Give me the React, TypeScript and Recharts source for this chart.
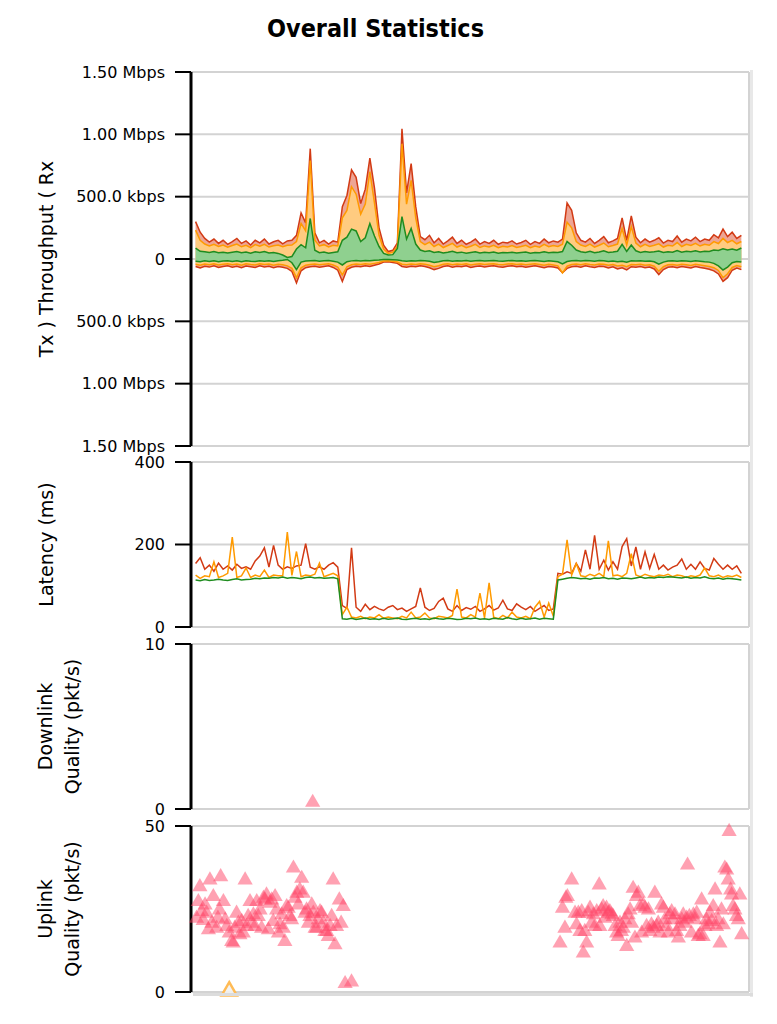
import React from 'react';
import { Area, CartesianGrid, ComposedChart, Line, Scatter, Symbols, XAxis, YAxis } from 'recharts';

const FONT = "'DejaVu Sans', sans-serif";
const SAMPLE_STEP = 15; // seconds between samples
const TIME_END = 1825;
const timeTicks = [360, 960, 1560, TIME_END];

// throughput, kbps (Rx up, Tx drawn downwards)
const rxRed = [
  300, 215, 165, 135, 160, 125, 150, 118, 140, 165,
  125, 145, 112, 150, 130, 160, 120, 138, 150, 122,
  145, 150, 190, 370, 290, 885, 210, 130, 150, 120,
  145, 135, 420, 510, 715, 655, 445, 560, 810, 570,
  250, 110, 60, 70, 130, 1045, 530, 765, 420, 180,
  155, 190, 130, 165, 120, 145, 175, 125, 150, 118,
  135, 160, 120, 140, 125, 150, 118, 135, 128, 145,
  120, 132, 150, 118, 140, 125, 160, 130, 145, 135,
  160, 450, 390, 210, 150, 135, 165, 125, 150, 180,
  130, 145, 165, 330, 150, 345, 175, 130, 160, 135,
  150, 170, 128, 150, 140, 185, 135, 160, 145, 175,
  140, 160, 150, 195, 170, 240, 180, 215, 165, 190,
];
const rxOrange = [
  232, 150, 120, 105, 118, 100, 112, 95, 108, 120,
  98, 110, 92, 115, 102, 118, 96, 106, 112, 98,
  110, 112, 140, 285, 225, 790, 150, 105, 115, 96,
  110, 105, 330, 390, 580, 520, 360, 440, 700, 450,
  190, 80, 45, 55, 100, 925, 440, 630, 330, 140,
  115, 135, 100, 120, 92, 108, 125, 96, 110, 90,
  102, 118, 92, 105, 96, 110, 90, 102, 96, 108,
  92, 100, 110, 90, 104, 95, 118, 98, 108, 100,
  118, 295, 250, 140, 112, 100, 120, 95, 110, 128,
  98, 108, 120, 245, 112, 260, 128, 98, 118, 100,
  110, 122, 96, 110, 104, 132, 100, 118, 108, 126,
  104, 118, 110, 140, 124, 165, 132, 150, 122, 140,
];
const rxGreen = [
  88, 62, 58, 52, 60, 50, 55, 48, 54, 60,
  50, 56, 46, 58, 52, 60, 48, 52, 45, 32,
  12, 20, 80, 115, 90, 325, 70, 50, 56, 46,
  52, 58, 150, 175, 240, 225, 140, 170, 285, 185,
  100, 45, 32, 35, 85, 340, 160, 245, 120, 72,
  60, 66, 52, 58, 48, 54, 62, 50, 55, 46,
  52, 58, 48, 54, 50, 56, 46, 52, 50, 55,
  48, 52, 56, 46, 52, 50, 58, 50, 55, 52,
  60, 140, 110, 72, 58, 52, 62, 50, 56, 66,
  52, 56, 62, 118, 60, 112, 66, 52, 60, 54,
  58, 64, 52, 58, 55, 68, 54, 62, 58, 66,
  56, 62, 60, 72, 68, 82, 72, 80, 70, 88,
];
const txRed = [
  60, 72, 58, 65, 55, 68, 60, 55, 66, 58,
  70, 56, 62, 68, 55, 64, 58, 70, 60, 66,
  75, 100, 192, 95, 70, 62, 58, 66, 60, 55,
  68, 90, 180, 85, 66, 58, 62, 55, 60, 50,
  40, 25, 22, 28, 35, 60, 66, 58, 62, 55,
  60, 70, 85, 75, 60, 55, 66, 58, 62, 55,
  68, 60, 56, 64, 58, 55, 62, 66, 58, 55,
  62, 58, 66, 60, 55, 62, 70, 60, 65, 72,
  110, 75, 62, 58, 66, 55, 62, 68, 58, 60,
  72, 62, 80, 70, 88, 62, 66, 60, 70, 65,
  80, 125, 85, 66, 62, 70, 60, 66, 72, 60,
  68, 75, 82, 95, 120, 180, 150, 90, 72, 85,
];
const txOrange = [
  42, 50, 40, 46, 38, 48, 42, 38, 46, 40,
  50, 38, 44, 48, 38, 45, 40, 50, 42, 46,
  55, 75, 150, 70, 50, 44, 40, 46, 42, 38,
  48, 65, 128, 62, 46, 40, 44, 38, 42, 35,
  28, 16, 14, 18, 24, 42, 46, 40, 44, 38,
  42, 50, 62, 54, 42, 38, 46, 40, 44, 38,
  48, 42, 38, 45, 40, 38, 44, 46, 40, 38,
  44, 40, 46, 42, 38, 44, 50, 42, 48, 55,
  112, 58, 44, 40, 46, 38, 44, 48, 40, 42,
  50, 44, 56, 50, 62, 44, 46, 42, 50, 46,
  58, 98, 62, 46, 44, 50, 42, 46, 52, 42,
  48, 54, 60, 70, 92, 150, 118, 68, 52, 62,
];
const txGreen = [
  18, 22, 15, 20, 14, 22, 16, 14, 20, 15,
  22, 14, 18, 20, 14, 18, 15, 20, 14, 10,
  4, 30, 85, 25, 16, 14, 12, 18, 15, 12,
  18, 25, 48, 22, 15, 12, 16, 12, 14, 10,
  8, 5, 4, 6, 8, 14, 18, 14, 16, 12,
  14, 18, 28, 22, 14, 12, 18, 14, 16, 12,
  18, 14, 12, 16, 14, 12, 16, 18, 14, 12,
  16, 14, 18, 15, 12, 16, 20, 15, 18, 22,
  40, 20, 15, 12, 16, 12, 15, 18, 13, 14,
  20, 16, 22, 18, 25, 15, 16, 14, 18, 16,
  22, 42, 25, 16, 15, 18, 14, 16, 20, 15,
  18, 22, 25, 35, 55, 88, 65, 30, 20, 25,
];

// latency, ms
const latRed = [
  154, 168, 140, 150, 135, 155, 140, 148, 138, 152,
  142, 146, 140, 160, 172, 192, 145, 198, 150, 140,
  146, 142, 148, 150, 202, 145, 140, 146, 140, 150,
  156, 145, 52, 45, 192, 48, 38, 55, 42, 50,
  44, 40, 48, 52, 42, 46, 38, 44, 50, 95,
  48, 40, 45, 62, 70, 44, 38, 52, 40, 47,
  43, 50, 38, 44, 52, 41, 46, 65, 44, 40,
  56, 48, 42, 50, 38, 45, 52, 40, 44, 130,
  128, 134, 130, 154, 135, 187, 140, 222, 140, 162,
  138, 158, 140, 195, 214, 148, 194, 140, 182, 142,
  176, 140, 150, 138, 145, 150, 165, 140, 152, 140,
  158, 142, 138, 166, 152, 140, 150, 140, 148, 130,
];
const latOrange = [
  126, 118, 124, 122, 158, 120, 124, 130, 218, 120,
  124, 143, 120, 126, 122, 138, 120, 126, 124, 124,
  230, 125, 183, 122, 126, 124, 128, 155, 122, 126,
  130, 124, 30, 48, 24, 22, 26, 20, 24, 22,
  30, 21, 24, 22, 20, 26, 22, 36, 22, 24,
  34, 22, 20, 26, 24, 22, 28, 92, 24, 22,
  30, 24, 82, 22, 107, 24, 20, 28, 22, 36,
  24, 22, 26, 20, 48, 62, 24, 58, 26, 122,
  128, 211, 126, 154, 124, 122, 128, 124, 130, 122,
  209, 124, 126, 122, 130, 178, 126, 122, 128, 124,
  122, 126, 124, 128, 122, 126, 124, 120, 124, 122,
  126, 143, 124, 122, 126, 120, 124, 122, 126, 120,
];
const latGreen = [
  114, 112, 115, 113, 114, 116, 114, 113, 115, 117,
  114, 115, 116, 118, 117, 119, 118, 120, 119, 121,
  118, 120, 119, 117, 120, 121, 119, 120, 118, 119,
  120, 117, 20, 19, 21, 18, 20, 22, 19, 20,
  18, 21, 19, 20, 22, 19, 18, 20, 21, 19,
  20, 18, 22, 20, 19, 21, 20, 18, 19, 21,
  20, 22, 19, 20, 18, 21, 20, 19, 23, 20,
  18, 21, 19, 20, 22, 19, 21, 20, 19, 114,
  116, 118, 120, 119, 117, 118, 116, 119, 118, 120,
  117, 118, 116, 119, 118, 117, 119, 121, 118, 120,
  119, 121, 120, 122, 121, 120, 119, 121, 118, 120,
  119, 122, 118, 117, 119, 116, 118, 117, 116, 114,
];

// link quality, pkt/s
const uplinkTime = [
  18, 24, 29, 35, 40, 46, 51, 57, 62, 68, 73, 84, 88, 93, 97, 106, 112, 117, 125, 133,
  138, 143, 149, 155, 160, 166, 171, 177, 182, 187, 193, 198, 204, 209, 215, 220, 226, 231, 237, 242,
  247, 253, 258, 264, 269, 275, 280, 286, 291, 297, 302, 307, 313, 318, 324, 329, 335, 340, 346, 351,
  356, 362, 367, 373, 378, 384, 389, 395, 400, 406, 411, 416, 422, 427, 433, 438, 444, 449, 455, 460,
  465, 471, 476, 485, 491, 498, 504, 525,
  1207, 1215, 1223, 1226, 1231, 1245, 1256, 1261, 1267, 1272, 1278, 1283, 1288, 1294, 1299, 1305, 1310, 1316, 1321, 1327,
  1335, 1337, 1343, 1348, 1354, 1359, 1365, 1370, 1376, 1381, 1387, 1392, 1397, 1403, 1408, 1414, 1419, 1425, 1430, 1436,
  1441, 1446, 1452, 1457, 1463, 1468, 1474, 1479, 1485, 1490, 1496, 1501, 1506, 1512, 1517, 1523, 1528, 1534, 1539, 1545,
  1550, 1555, 1561, 1566, 1572, 1577, 1583, 1588, 1594, 1599, 1605, 1610, 1615, 1621, 1624, 1630, 1637, 1643, 1648, 1654,
  1659, 1664, 1670, 1675, 1681, 1686, 1692, 1697, 1703, 1708, 1714, 1719, 1724, 1730, 1735, 1741, 1746, 1752, 1757, 1760,
  1765, 1768, 1773, 1779, 1784, 1790, 1795, 1801,
];
const uplinkRate = [
  22.2, 27.2, 31.7, 24.2, 21.5, 26.2, 23.7, 18.7, 33.7, 20.7, 28.7, 19.2, 22.2, 24.7, 34.7, 27.2, 21.7, 19.7, 17.7, 15.2,
  14.7, 19.2, 23.7, 20.7, 17.2, 21.2, 17.7, 33.7, 19.7, 22.7, 27.2, 20.7, 23.2, 19.7, 27.2, 22.7, 24.7, 19.2, 28.2, 27.7,
  29.2, 18.7, 26.7, 27.7, 21.2, 28.7, 24.7, 17.7, 20.2, 23.2, 19.2, 15.2, 25.7, 25.2, 22.7, 21.7, 37.3, 28.2, 29.7, 26.2,
  30.7, 34.2, 29.7, 23.7, 24.7, 20.7, 22.7, 26.2, 23.7, 19.2, 19.2, 21.7, 24.2, 23.7, 20.7, 18.2, 18.2, 16.7, 19.7, 22.7,
  33.7, 14.2, 19.7, 27.7, 20.7, 25.7, 2.5, 3.0,
  14.7, 25.2, 19.2, 28.2, 28.7, 33.7, 23.7, 20.2, 23.7, 18.2, 24.2, 11.7, 18.2, 14.7, 23.7, 25.2, 20.7, 23.2, 19.7, 24.2,
  32.2, 19.7, 24.7, 25.7, 22.2, 25.2, 23.7, 24.2, 23.2, 22.7, 19.7, 17.7, 16.7, 20.7, 18.2, 19.2, 21.7, 13.7, 23.2, 24.7,
  20.7, 31.2, 16.2, 28.7, 29.7, 25.7, 17.7, 26.2, 25.2, 19.7, 24.7, 18.2, 20.2, 19.2, 29.7, 19.7, 20.7, 17.7, 26.2, 25.2,
  21.7, 19.7, 17.7, 23.2, 24.2, 21.7, 23.2, 18.2, 16.2, 19.7, 21.7, 23.2, 20.7, 22.2, 38.2, 22.7, 17.7, 23.2, 21.7, 23.7,
  16.7, 17.2, 27.7, 16.7, 19.7, 21.7, 20.2, 23.7, 21.2, 25.7, 30.7, 19.7, 21.7, 14.7, 24.7, 20.2, 37.3, 36.7, 33.7, 48.3,
  30.7, 29.2, 25.7, 24.7, 22.7, 21.7, 29.2, 17.2,
];
const uplinkLossTime = [125];
const uplinkLossRate = [0.3];
const downlinkTime = [398];
const downlinkRate = [0.4];

const throughputRows = rxRed.map((_, i) => ({
  t: SAMPLE_STEP * (i + 1),
  rxRed: rxRed[i],
  rxOrange: rxOrange[i],
  rxGreen: rxGreen[i],
  txRed: -txRed[i],
  txOrange: -txOrange[i],
  txGreen: -txGreen[i],
}));
const latencyRows = latRed.map((_, i) => ({
  t: SAMPLE_STEP * (i + 1),
  red: latRed[i],
  orange: latOrange[i],
  green: latGreen[i],
}));
const uplinkRows = uplinkTime.map((t, i) => ({ t, v: uplinkRate[i] }));
const uplinkLossRows = uplinkLossTime.map((t, i) => ({ t, v: uplinkLossRate[i] }));
const downlinkRows = downlinkTime.map((t, i) => ({ t, v: downlinkRate[i] }));

const RED = '#d23a14';
const ORANGE = '#ff9a00';
const GREEN = '#1f8c1f';

const fmtRate = (v: number) => {
  const a = Math.abs(v);
  if (a === 0) return '0';
  return a >= 1000 ? `${(a / 1000).toFixed(2)} Mbps` : `${a.toFixed(1)} kbps`;
};

function AxisTitle(props: any) {
  const { viewBox, lines } = props;
  const cy = viewBox.y + viewBox.height / 2;
  const first = lines.length > 1 ? 45 : 46;
  return (
    <g>
      {lines.map((s: string, j: number) => {
        const cx = viewBox.x + first + 27 * j;
        return (
          <text key={j} x={cx} y={cy} transform={`rotate(-90 ${cx} ${cy})`} textAnchor="middle"
            dominantBaseline="central" fontSize={19} fontFamily={FONT} fill="#000">{s}</text>
        );
      })}
    </g>
  );
}

// triangle markers
const pinkTriangle = (p: any) => (
  <Symbols cx={p.cx} cy={p.cy} type="triangle" size={100} fill="#ff4466" fillOpacity={0.5} />
);
const hollowTriangle = (p: any) => (
  <Symbols cx={p.cx} cy={p.cy} type="triangle" size={100} fill="#f2f2f2" fillOpacity={0.9} stroke="#ffbb55" strokeWidth={2.5} />
);

const margin = { top: 10, right: 28, bottom: 10, left: 0 };
const xProps: any = {
  type: 'number', dataKey: 't', domain: [0, TIME_END], ticks: timeTicks, height: 0,
  tick: false, axisLine: false, tickLine: false,
};
const yProps: any = {
  type: 'number', width: 191, tickSize: 16, tickMargin: 10, interval: 0,
  axisLine: { stroke: '#000', strokeWidth: 3 }, tickLine: { stroke: '#000', strokeWidth: 2 },
  tick: { fontSize: 16, fill: '#000', fontFamily: FONT },
};
const gridProps = { stroke: '#d3d3d3', strokeWidth: 2 };
const areaBase: any = { type: 'linear', strokeWidth: 1.5, fillOpacity: 1, baseValue: 0, dot: false, activeDot: false, isAnimationActive: false };
const lineBase: any = { type: 'linear', strokeWidth: 1.5, dot: false, activeDot: false, isAnimationActive: false };

const title = (lines: string[]) => ({ content: (p: any) => <AxisTitle {...p} lines={lines} /> });

export default function App() {
  return (
    <div style={{ position: 'absolute', top: 0, left: 0, width: 777, height: 1024, background: '#fff', fontFamily: FONT }}>
      <svg width={777} height={50} style={{ position: 'absolute', top: 0, left: 0 }}>
        <text x={375.5} y={37} textAnchor="middle" fontSize={25} fontWeight="bold" fontFamily={FONT}
          textLength={217} lengthAdjust="spacingAndGlyphs" fill="#000">Overall Statistics</text>
      </svg>

      <div style={{ position: 'absolute', top: 62, left: 0 }}>
        <ComposedChart width={777} height={394} data={throughputRows} margin={margin}>
          <CartesianGrid {...gridProps} />
          <XAxis {...xProps} />
          <YAxis {...yProps} domain={[-1500, 1500]} ticks={[-1500, -1000, -500, 0, 500, 1000, 1500]}
            tickFormatter={fmtRate} label={title(['Tx ) Throughput ( Rx'])} />
          <Area {...areaBase} dataKey="rxRed" stroke={RED} fill="#eda595" />
          <Area {...areaBase} dataKey="rxOrange" stroke={ORANGE} fill="#ffcb80" />
          <Area {...areaBase} dataKey="rxGreen" stroke={GREEN} fill="#8fd08f" />
          <Area {...areaBase} dataKey="txRed" stroke={RED} fill="#eda595" />
          <Area {...areaBase} dataKey="txOrange" stroke={ORANGE} fill="#ffcb80" />
          <Area {...areaBase} dataKey="txGreen" stroke={GREEN} fill="#8fd08f" />
        </ComposedChart>
      </div>

      <div style={{ position: 'absolute', top: 452, left: 0 }}>
        <ComposedChart width={777} height={185} data={latencyRows} margin={margin}>
          <CartesianGrid {...gridProps} />
          <XAxis {...xProps} />
          <YAxis {...yProps} domain={[0, 400]} ticks={[0, 200, 400]} label={title(['Latency (ms)'])} />
          <Line {...lineBase} dataKey="red" stroke={RED} />
          <Line {...lineBase} dataKey="orange" stroke={ORANGE} />
          <Line {...lineBase} dataKey="green" stroke={GREEN} />
        </ComposedChart>
      </div>

      <div style={{ position: 'absolute', top: 634, left: 0 }}>
        <ComposedChart width={777} height={185} margin={margin}>
          <CartesianGrid {...gridProps} />
          <XAxis {...xProps} />
          <YAxis {...yProps} dataKey="v" domain={[0, 10]} ticks={[0, 10]} label={title(['Downlink', 'Quality (pkt/s)'])} />
          <Scatter data={downlinkRows} shape={pinkTriangle} isAnimationActive={false} />
        </ComposedChart>
      </div>

      <div style={{ position: 'absolute', top: 816, left: 0 }}>
        <ComposedChart width={777} height={186} margin={margin}>
          <CartesianGrid {...gridProps} />
          <XAxis {...xProps} />
          <YAxis {...yProps} dataKey="v" domain={[0, 50]} ticks={[0, 50]} label={title(['Uplink', 'Quality (pkt/s)'])} />
          <Scatter data={uplinkRows} shape={pinkTriangle} isAnimationActive={false} />
          <Scatter data={uplinkLossRows} shape={hollowTriangle} isAnimationActive={false} />
        </ComposedChart>
      </div>

      {/* frame shadow on the right and bottom */}
      <div style={{ position: 'absolute', top: 70, left: 750, width: 3, height: 927, background: '#e8e8e8' }} />
      <div style={{ position: 'absolute', top: 993, left: 193, width: 560, height: 3, background: '#dcdcdc' }} />
    </div>
  );
}
